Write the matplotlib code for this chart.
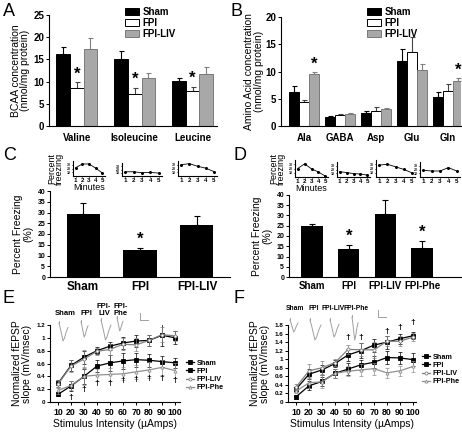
import numpy as np
import matplotlib
matplotlib.use('Agg')
import matplotlib.pyplot as plt
from matplotlib.patches import Patch

plt.rcParams['font.family'] = ['Liberation Sans', 'DejaVu Sans']
plt.rcParams['font.weight'] = 'bold'
plt.rcParams['axes.linewidth'] = 0.8

W, H = 462, 432

# ---- data ----
groups = ['Sham', 'FPI', 'FPI-LIV']
bcaa = ['Valine', 'Isoleucine', 'Leucine']
bcaa_mean = {'Sham': [16.3, 15.1, 10.1], 'FPI': [8.5, 7.1, 7.9], 'FPI-LIV': [17.3, 10.8, 11.6]}
bcaa_err = {'Sham': [1.6, 1.9, 0.6], 'FPI': [1.3, 1.5, 0.9], 'FPI-LIV': [2.6, 1.2, 1.8]}

amino = ['Ala', 'GABA', 'Asp', 'Glu', 'Gln']
amino_mean = {'Sham': [6.2, 1.6, 2.4, 12.0, 5.3], 'FPI': [4.4, 2.0, 2.8, 13.6, 6.4],
              'FPI-LIV': [9.6, 2.2, 3.1, 10.3, 8.2]}
amino_err = {'Sham': [1.1, 0.2, 0.3, 2.2, 0.9], 'FPI': [0.4, 0.15, 0.6, 2.7, 1.3],
             'FPI-LIV': [0.3, 0.1, 0.2, 1.1, 0.6]}

c_groups = ['Sham', 'FPI', 'FPI-LIV']
c_mean = [29.3, 12.5, 24.4]
c_err = [5.2, 1.0, 3.8]
d_groups = ['Sham', 'FPI', 'FPI-LIV', 'FPI-Phe']
d_mean = [24.8, 13.8, 30.9, 14.2]
d_err = [1.2, 1.8, 6.7, 3.6]

minutes = [1, 2, 3, 4, 5]
c_minutes = {'Sham': [22, 32, 32, 21, 8], 'FPI': [13, 13, 10, 11, 9], 'FPI-LIV': [30, 33, 26, 21, 12]}
d_minutes = {'Sham': [20, 31, 19, 12, 2], 'FPI': [14, 12, 9, 8, 5],
             'FPI-LIV': [28, 30, 24, 18, 10], 'FPI-Phe': [18, 16, 16, 25, 16]}

stim = [10, 20, 30, 40, 50, 60, 70, 80, 90, 100]
lines = ['Sham', 'FPI', 'FPI-LIV', 'FPI-Phe']
e_mean = {'Sham': [0.29, 0.57, 0.70, 0.80, 0.87, 0.92, 0.95, 0.96, 1.04, 1.00],
          'FPI': [0.12, 0.25, 0.40, 0.56, 0.61, 0.64, 0.66, 0.65, 0.63, 0.61],
          'FPI-LIV': [0.28, 0.56, 0.67, 0.79, 0.82, 0.90, 0.89, 0.96, 1.05, 1.03],
          'FPI-Phe': [0.18, 0.26, 0.40, 0.42, 0.43, 0.44, 0.47, 0.50, 0.54, 0.49]}
e_err = {'Sham': [0.06, 0.08, 0.10, 0.05, 0.06, 0.10, 0.10, 0.08, 0.17, 0.10],
         'FPI': [0.03, 0.08, 0.12, 0.10, 0.12, 0.12, 0.11, 0.10, 0.09, 0.08],
         'FPI-LIV': [0.06, 0.09, 0.14, 0.05, 0.08, 0.09, 0.10, 0.09, 0.12, 0.08],
         'FPI-Phe': [0.05, 0.07, 0.14, 0.09, 0.10, 0.10, 0.11, 0.12, 0.12, 0.12]}
e_dagger = [None, 0.07, 0.19, 0.29, 0.29, 0.33, 0.35, 0.36, 0.36, 0.33]

f_mean = {'Sham': [0.30, 0.65, 0.75, 0.90, 1.10, 1.20, 1.33, 1.40, 1.48, 1.55],
          'FPI': [0.12, 0.38, 0.48, 0.67, 0.77, 0.87, 0.93, 1.04, 1.03, 0.99],
          'FPI-LIV': [0.35, 0.73, 0.80, 0.92, 1.23, 1.22, 1.22, 1.42, 1.42, 1.52],
          'FPI-Phe': [0.25, 0.45, 0.47, 0.67, 0.72, 0.75, 0.78, 0.68, 0.73, 0.83]}
f_err = {'Sham': [0.06, 0.12, 0.12, 0.08, 0.15, 0.18, 0.15, 0.15, 0.12, 0.08],
         'FPI': [0.05, 0.10, 0.10, 0.10, 0.15, 0.12, 0.14, 0.15, 0.15, 0.16],
         'FPI-LIV': [0.06, 0.15, 0.15, 0.08, 0.10, 0.15, 0.18, 0.12, 0.12, 0.10],
         'FPI-Phe': [0.05, 0.12, 0.15, 0.10, 0.12, 0.15, 0.14, 0.12, 0.12, 0.12]}
f_dagger = [None, None, None, None, 1.50, 1.50, None, 1.64, 1.73, 1.85]

# EPSP example traces (normalised shape, scaled per group)
trace_x = [0.0, 0.15, 0.45, 0.6, 0.8, 1.0]
trace_y = [0.0, 0.3, 1.0, 0.85, 0.5, 0.25]

bar_face = {'Sham': 'black', 'FPI': 'white', 'FPI-LIV': '#a8a8a8', 'FPI-Phe': 'black'}
bar_edge = {'Sham': 'black', 'FPI': 'black', 'FPI-LIV': '#7a7a7a', 'FPI-Phe': 'black'}
err_col = {'Sham': 'black', 'FPI': '#444444', 'FPI-LIV': '#808080'}

fig = plt.figure(figsize=(W / 100, H / 100), dpi=100)


def px_axes(l, t, r, b):
    return fig.add_axes([l / W, 1 - b / H, (r - l) / W, (b - t) / H])


def style(ax, size=6):
    ax.spines['top'].set_visible(False)
    ax.spines['right'].set_visible(False)
    ax.tick_params(length=2, width=0.7, labelsize=size, pad=1.5)


def letter(x, y, s):
    fig.text(x / W, 1 - y / H, s, fontsize=13, fontweight='normal', va='top', ha='left')


def grouped_bars(ax, names, mean, err, w):
    x = np.arange(len(names))
    for i, g in enumerate(groups):
        xs = x + (i - 1) * w
        ax.bar(xs, mean[g], w, color=bar_face[g], edgecolor=bar_edge[g], linewidth=0.7, zorder=2)
        ax.errorbar(xs, mean[g], yerr=[np.zeros(len(names)), err[g]], fmt='none',
                    ecolor=err_col[g], elinewidth=0.8, capsize=1.8, capthick=0.8, zorder=1)
    ax.set_xticks(x)
    ax.set_xticklabels(names)
    return x


# ---- A ----
axA = px_axes(49, 15, 217, 126)
style(axA, 7)
xa = grouped_bars(axA, bcaa, bcaa_mean, bcaa_err, 0.235)
axA.set_xlim(-0.48, 2.42)
axA.set_ylim(0, 25)
axA.set_yticks(range(0, 26, 5))
axA.tick_params(axis='x', length=0, pad=5)
axA.set_ylabel('BCAA concentration\n(nmol/mg protein)', fontsize=7.5, labelpad=2, linespacing=0.95)
for i in range(3):
    axA.text(xa[i], bcaa_mean['FPI'][i] + bcaa_err['FPI'][i] + 0.2, '*', ha='center', va='bottom', fontsize=12)
hA = [Patch(facecolor=bar_face[g], edgecolor=bar_edge[g], linewidth=0.7) for g in groups]
fig.legend(hA, groups, loc='upper left', bbox_to_anchor=(118 / W, 1 - 0 / H), frameon=False,
           fontsize=7, handlelength=1.5, handleheight=0.8, labelspacing=0.1, handletextpad=0.3,
           borderpad=0.2)
letter(3, 3, 'A')

# ---- B ----
axB = px_axes(281, 17, 461, 126)
style(axB, 7)
xb = grouped_bars(axB, amino, amino_mean, amino_err, 0.27)
axB.set_xlim(-0.64, 4.36)
axB.set_ylim(0, 20)
axB.set_yticks(range(0, 21, 5))
axB.tick_params(axis='x', length=0, pad=5)
axB.set_ylabel('Amino Acid concentration\n(nmol/mg protein)', fontsize=7.5, labelpad=1, linespacing=0.95)
for i in [0, 4]:
    axB.text(xb[i] + 0.27, amino_mean['FPI-LIV'][i] + amino_err['FPI-LIV'][i] + 0.1, '*',
             ha='center', va='bottom', fontsize=12)
fig.legend(hA, groups, loc='upper left', bbox_to_anchor=(360 / W, 1 - 0 / H), frameon=False,
           fontsize=7, handlelength=1.5, handleheight=0.8, labelspacing=0.1, handletextpad=0.3,
           borderpad=0.2)
letter(231, 3, 'B')


# ---- C / D main bars ----
def freeze_bars(ax, names, mean, err, star_idx, label_size):
    x = np.arange(len(names))
    ax.bar(x, mean, 0.58, color='black', zorder=2)
    ax.errorbar(x, mean, yerr=[np.zeros(len(names)), err], fmt='none', ecolor='black',
                elinewidth=0.8, capsize=2, capthick=0.8, zorder=1)
    ax.set_xticks(x)
    ax.set_xticklabels(names, fontsize=label_size)
    ax.tick_params(axis='x', length=0, pad=3)
    ax.set_ylim(0, 40)
    ax.set_yticks(range(0, 41, 5))
    ax.set_ylabel('Percent Freezing\n(%)', fontsize=7.5, labelpad=3, linespacing=0.95)
    for i in star_idx:
        ax.text(x[i], mean[i] + err[i] + 0.5, '*', ha='center', va='bottom', fontsize=12)


def minute_inset(box, vals):
    ax = px_axes(*box)
    style(ax, 4.5)
    ax.plot(minutes, vals, color='black', lw=0.6, marker='o', ms=1.2)
    ax.set_xlim(0.6, 5.4)
    ax.set_ylim(0, 40)
    ax.set_xticks(minutes)
    ax.set_yticks([10, 20, 30])
    ax.tick_params(axis='y', labelsize=2.5, length=1, pad=0.5)
    ax.tick_params(axis='x', length=1, pad=0.5)
    return ax


axC = px_axes(50, 191, 230, 277)
style(axC, 5)
freeze_bars(axC, c_groups, c_mean, c_err, [1], 8.5)
axC.set_xlim(-0.58, 2.58)
c_boxes = [(73, 161, 105, 176), (122, 163, 162, 176), (178, 161, 217, 176)]
for box, g in zip(c_boxes, c_groups):
    ia = minute_inset(box, c_minutes[g])
    if g == 'Sham':
        ia.set_ylabel('Percent\nfreezing', fontsize=6.5, labelpad=2, linespacing=0.9)
        ia.set_xlabel('Minutes', fontsize=6.5, labelpad=0)
letter(3, 147, 'C')

axD = px_axes(289, 195, 461, 277)
style(axD, 5)
freeze_bars(axD, d_groups, d_mean, d_err, [1, 3], 7)
axD.set_xlim(-0.63, 4.06)
d_boxes = [(295, 160, 328, 177), (337, 162, 370, 177), (376, 160, 415, 177), (420, 162, 460, 177)]
for box, g in zip(d_boxes, d_groups):
    ia = minute_inset(box, d_minutes[g])
    if g == 'Sham':
        ia.set_ylabel('Percent\nfreezing', fontsize=6.5, labelpad=2, linespacing=0.9)
        ia.set_xlabel('Minutes', fontsize=6.5, labelpad=0)
letter(234, 147, 'D')

# ---- E / F line plots ----
line_style = {'Sham': dict(color='black', marker='s', mfc='black', ms=2.2),
              'FPI': dict(color='black', marker='s', mfc='black', ms=2.2),
              'FPI-LIV': dict(color='#808080', marker='o', mfc='white', ms=2.2),
              'FPI-Phe': dict(color='#909090', marker='^', mfc='white', ms=2.2)}


def epsp_plot(ax, mean, err, dagger, ymax, legend_xy):
    handles = []
    for g in lines:
        st = line_style[g]
        ax.errorbar(stim, mean[g], yerr=err[g], fmt='none', ecolor=st['color'], elinewidth=0.5,
                    capsize=1.2, capthick=0.5)
        h, = ax.plot(stim, mean[g], lw=0.9, mec=st['color'], mew=0.6, **st)
        handles.append(h)
    for xv, dv in zip(stim, dagger):
        if dv is not None:
            ax.text(xv, dv, '\u2020', ha='center', va='center', fontsize=6, clip_on=False)
    ax.set_xticks(stim)
    ax.set_ylim(0, ymax)
    ax.tick_params(axis='y', labelsize=4.5)
    ax.tick_params(axis='x', labelsize=6.3, pad=2)
    ax.set_ylabel('Normalized fEPSP\nslope (mV/msec)', fontsize=7.5, labelpad=3, linespacing=0.95)
    ax.set_xlabel('Stimulus Intensity (\u00b5Amps)', fontsize=7.5, labelpad=2)
    fig.legend(handles, lines, loc='upper left', bbox_to_anchor=(legend_xy[0] / W, 1 - legend_xy[1] / H),
               frameon=False, fontsize=5.2, handlelength=1.2, labelspacing=0.15, handletextpad=0.3,
               borderpad=0.1, borderaxespad=0)


def fmt_tick(v):
    return '0' if v == 0 else ('%g' % round(v, 1))


axE = px_axes(50, 325, 180, 402)
style(axE)
epsp_plot(axE, e_mean, e_err, e_dagger, 1.2, (185, 359))
axE.set_xlim(3.8, 103.8)
e_ticks = np.round(np.arange(0, 1.21, 0.2), 1)
axE.set_yticks(e_ticks)
axE.set_yticklabels([fmt_tick(v) for v in e_ticks])
letter(3, 290, 'E')

axF = px_axes(288, 325, 416, 402)
style(axF)
epsp_plot(axF, f_mean, f_err, f_dagger, 1.8, (421, 353))
axF.set_xlim(3.8, 102.3)
f_ticks = np.round(np.arange(0, 1.81, 0.2), 1)
axF.set_yticks(f_ticks)
axF.set_yticklabels([fmt_tick(v) for v in f_ticks])
letter(234, 290, 'F')

# ---- example traces overlay (pixel coordinates) ----
ov = fig.add_axes([0, 0, 1, 1], zorder=5)
ov.set_xlim(0, W)
ov.set_ylim(H, 0)
ov.axis('off')
ov.patch.set_alpha(0)

e_labels = [('Sham', 65, 317), ('FPI', 86, 317), ('FPI-\nLIV', 104, 317), ('FPI-\nPhe', 121, 317)]
e_traces = [(59, 9, 323, 18), (81, 7, 322, 15), (101, 10, 320, 20), (117, 6, 318, 13)]
f_labels = [('Sham', 295, 312), ('FPI', 314, 312), ('FPI-LIV', 333, 312), ('FPI-Phe', 356, 312)]
f_traces = [(290, 8, 320, 12), (310, 11, 320, 20), (330, 9, 320, 17), (352, 6, 317, 23)]

for labs, trs, fs in [(e_labels, e_traces, 5.5), (f_labels, f_traces, 4.8)]:
    for s, x, y in labs:
        ov.text(x, y, s, fontsize=fs, ha='center', va='bottom', linespacing=0.9)
    for x0, wd, y0, dp in trs:
        ov.plot([x0 + wd * t for t in trace_x], [y0 + dp * v for v in trace_y], color='#a0a0a0', lw=0.7)
        ov.plot([x0, x0], [y0 - 2, y0], color='#a0a0a0', lw=0.7)

for x0, y0 in [(140, 313), (378, 310)]:
    ov.plot([x0, x0, x0 + 8], [y0, y0 + 7, y0 + 7], color='#a0a0a0', lw=0.7)

fig.savefig('out.png', dpi=100)
